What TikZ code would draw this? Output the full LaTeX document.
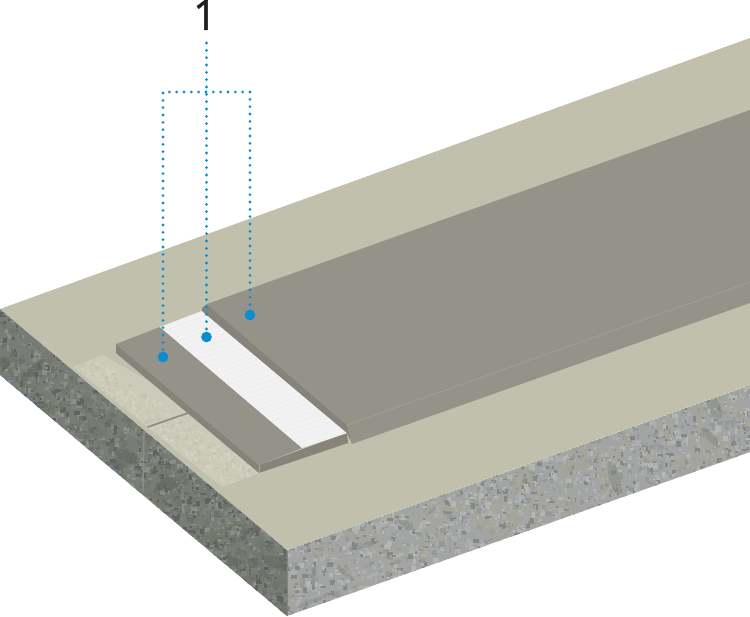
\documentclass[tikz,border=0pt]{standalone}
\usepackage{fontspec}
\setmainfont{Open Sans}
\newfontfamily\labelfont[FakeBold=1.4]{Open Sans}
\definecolor{slabtop}{HTML}{C0C0AC}
\definecolor{plate}{HTML}{95928A}
\definecolor{platewall}{HTML}{85837A}
\definecolor{platefold}{HTML}{A6A496}
\definecolor{primer}{HTML}{CCCAB8}
\definecolor{callout}{HTML}{0A8ECF}
\definecolor{ltxa}{HTML}{60645F}\definecolor{ltxb}{HTML}{6C716C}\definecolor{ltxc}{HTML}{777C77}
\definecolor{ltxd}{HTML}{7F8480}\definecolor{ltxe}{HTML}{8C8F88}\definecolor{ltxf}{HTML}{727768}
\definecolor{rtxa}{HTML}{858885}\definecolor{rtxb}{HTML}{969997}\definecolor{rtxc}{HTML}{A2A5A3}
\definecolor{rtxd}{HTML}{ABAEAD}\definecolor{rtxe}{HTML}{B4B6B3}\definecolor{rtxf}{HTML}{A5A598}
\definecolor{ptxa}{HTML}{C8C6B4}\definecolor{ptxb}{HTML}{D1CFBE}\definecolor{ptxc}{HTML}{CBC9B7}
\definecolor{ptxd}{HTML}{D3D1C1}\definecolor{ptxe}{HTML}{C6C4B1}\definecolor{ptxf}{HTML}{CFCDBC}
% #1 palette prefix, #2 count, #3 x0, #4 y0, #5 width, #6 slope, #7 height, #8 max speck size
\newcommand{\speckle}[8]{%
  \foreach \i in {1,...,#2}{%
    \pgfmathsetmacro{\px}{#3+rnd*#5}%
    \pgfmathsetmacro{\py}{#4+(\px-#3)*#6+rnd*#7}%
    \pgfmathsetmacro{\sa}{0.7+rnd*#8}%
    \pgfmathsetmacro{\sb}{0.7+rnd*#8}%
    \pgfmathrandominteger{\ci}{1}{6}%
    \ifcase\ci\or\def\cn{a}\or\def\cn{b}\or\def\cn{c}\or\def\cn{d}\or\def\cn{e}\or\def\cn{f}\fi
    \fill[#1\cn] (\px-\sa,\py-\sb) rectangle (\px+\sa,\py+\sb);
  }%
}
% aggregate stones: #1 colour, #2 count, #3 x0, #4 y0, #5 width, #6 slope, #7 height
\newcommand{\stones}[7]{%
  \foreach \i in {1,...,#2}{%
    \pgfmathsetmacro{\px}{#3+rnd*#5}%
    \pgfmathsetmacro{\py}{#4+(\px-#3)*#6+rnd*#7}%
    \pgfmathsetmacro{\sa}{5+rnd*12}%
    \pgfmathsetmacro{\sb}{2+rnd*5}%
    \pgfmathsetmacro{\ang}{rnd*180}%
    \fill[#1,opacity=0.5,rotate around={\ang:(\px,\py)}] (\px,\py) ellipse [x radius=\sa,y radius=\sb];
  }%
}
\tikzset{
  calloutline/.style={callout,line width=2.3pt,line cap=round,dash pattern=on 0pt off 5.5pt},
  calloutdot/.style={circle,fill=callout,inner sep=0pt,minimum size=8pt},
  calloutlabel/.style={inner sep=0pt,font=\labelfont\fontsize{31}{31}\selectfont,text=black!88},
}
\begin{document}
\begin{tikzpicture}[x=0.75pt,y=-0.75pt]
\useasboundingbox (0,0) rectangle (750,617);
\pgfmathsetseed{4217}
% left concrete face
\fill[ltxc] (0,309) -- (287,550) -- (287,616) -- (0,375) -- cycle;
\begin{scope}
  \clip (0,309) -- (287,550) -- (287,616) -- (0,375) -- cycle;
  \speckle{ltx}{1100}{0}{305}{287}{0.84}{72}{2.4}
  \stones{ltxf}{24}{0}{315}{287}{0.84}{60}
  \stones{ltxa}{10}{0}{315}{287}{0.84}{60}
  \speckle{ltx}{350}{0}{305}{287}{0.84}{72}{0.6}
  \draw[ltxe,line width=1pt] (144,428) -- (143,492);
\end{scope}
% right concrete face
\fill[rtxc] (287,550) -- (750,385) -- (750,452) -- (287,616) -- cycle;
\begin{scope}
  \clip (287,550) -- (750,385) -- (750,452) -- (287,616) -- cycle;
  \speckle{rtx}{1700}{287}{546}{463}{-0.356}{72}{2.4}
  \stones{rtxf}{28}{287}{552}{463}{-0.356}{60}
  \stones{rtxa}{8}{287}{552}{463}{-0.356}{60}
  \speckle{rtx}{500}{287}{546}{463}{-0.356}{72}{0.6}
\end{scope}
% darker left strip of the corner
\fill[ltxd] (287,550) -- (287,616) -- (287.8,615.7) -- (287.8,549.7) -- cycle;
% slab top
\fill[slabtop] (0,309) -- (750,38) -- (750,385) -- (287,550) -- cycle;
\draw[ptxd,line width=0.6pt,dash pattern=on 1.5pt off 1.5pt] (287,550) -- (750,385);
% primed patch under the plate
\fill[primer] (73,367) -- (103,355) -- (290,462) -- (222,487) -- cycle;
\begin{scope}
  \clip (73,367) -- (103,355) -- (290,462) -- (222,487) -- cycle;
  \speckle{ptx}{700}{73}{345}{180}{0.66}{40}{1.6}
  \draw[ltxe,line width=1.3pt] (145,428) -- (188,413);
  \draw[ptxd,line width=0.4pt] (146,430) -- (189,415);
\end{scope}
% lower plate
\fill[platewall] (116,344) -- (259,465) -- (347,433) -- (348,443) -- (259,473) -- (116,353) -- cycle;
\fill[plate] (116,344) -- (160,327) -- (302,448) -- (259,465) -- cycle;
\draw[platefold,line width=0.4pt] (259,465) -- (259,473);
% white strip
\fill[white!95!black] (160,327) -- (202,311) -- (347,433) -- (302,448) -- cycle;
\begin{scope}
  \clip (160,327) -- (202,311) -- (347,433) -- (302,448) -- cycle;
  \foreach \t in {0,0.03,...,1.0}{
    \draw[black!8,line width=0.3pt] ({160+\t*142},{327+\t*121}) -- ({202+\t*145},{311+\t*122});
  }
\end{scope}
% upper plate
\fill[platewall] (202,308) -- (207,304) -- (347,425) -- (352,444) -- (347,433) -- (202,311) -- cycle;
\fill[plate] (207,304) -- (750,110) -- (750,303) -- (352,444) -- (347,425) -- cycle;
\draw[platefold,line width=0.4pt] (347,425) -- (750,282);
% callouts
\node[calloutlabel] (lab) at (205,15) {1};
\coordinate (top) at (206.5,43);
\coordinate (jl) at (163,92);
\coordinate (jr) at (250,92);
\node[calloutdot] (d1) at (163,357) {};
\node[calloutdot] (d2) at (206.5,337) {};
\node[calloutdot] (d3) at (250,315) {};
\draw[calloutline] (top) -- (d2.center);
\draw[calloutline] (d1.center) -- (jl) -- (jr) -- (d3.center);
\end{tikzpicture}
\end{document}
